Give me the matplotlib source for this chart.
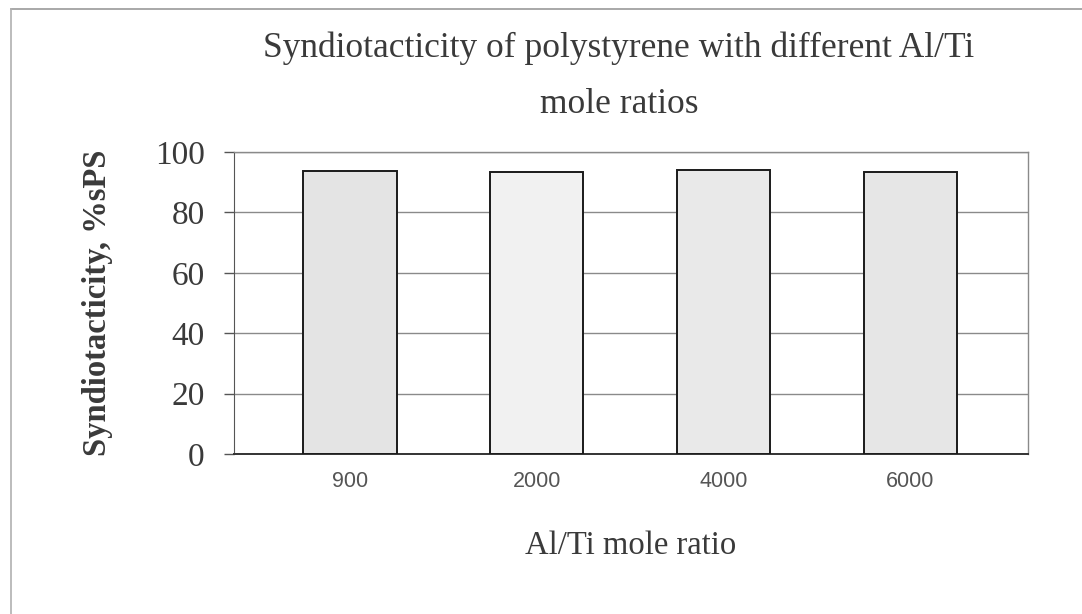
"""Bar chart: syndiotacticity of polystyrene vs Al/Ti mole ratio."""

import matplotlib
matplotlib.use("Agg")
import matplotlib.pyplot as plt
from matplotlib.lines import Line2D
import numpy as np

ratios = ["900", "2000", "4000", "6000"]
sps_percent = [93.6, 93.4, 94.2, 93.4]
bar_colors = ["#e4e4e4", "#f1f1f1", "#e9e9e9", "#e6e6e6"]
y_ticks = [0, 20, 40, 60, 80, 100]

SERIF = ["Liberation Serif", "DejaVu Serif"]
SANS = ["Liberation Sans", "DejaVu Sans"]

fig = plt.figure(figsize=(10.82, 6.14), dpi=100)
ax = fig.add_axes([0.2163, 0.2606, 0.7337, 0.4918])

x = np.arange(len(ratios))
ax.bar(x, sps_percent, width=0.5, color=bar_colors, edgecolor="#1a1a1a",
       linewidth=1.4, zorder=3)

ax.set_xlim(-0.62, 3.63)
ax.set_ylim(0, 100)
ax.set_yticks(y_ticks)
ax.set_yticklabels([str(v) for v in y_ticks], family=SERIF, fontsize=24,
                   color="#3a3a3a")
ax.set_xticks(x)
ax.set_xticklabels(ratios, family=SANS, fontsize=15.5, color="#555555")
ax.tick_params(axis="x", length=0, pad=12)
ax.tick_params(axis="y", length=7, width=1, color="#555555", pad=14)

ax.grid(axis="y", color="#8a8a8a", linewidth=1, zorder=0)
for side in ("top", "right"):
    ax.spines[side].set_color("#8a8a8a")
    ax.spines[side].set_linewidth(1)
ax.spines["left"].set_color("#555555")
ax.spines["bottom"].set_color("#333333")
ax.spines["bottom"].set_linewidth(1.4)

ax.set_ylabel("Syndiotacticity, %sPS", family=SERIF, fontsize=23.5,
              fontweight="bold", color="#3a3a3a", labelpad=30)
ax.set_xlabel("Al/Ti mole ratio", family=SERIF, fontsize=23.5,
              color="#3a3a3a", labelpad=28)

fig.text(0.572, 0.922, "Syndiotacticity of polystyrene with different Al/Ti",
         family=SERIF, fontsize=25.5, color="#3a3a3a", ha="center", va="center")
fig.text(0.572, 0.830, "mole ratios", family=SERIF, fontsize=25.5,
         color="#3a3a3a", ha="center", va="center")

# thin outer frame along the top and left edges
fig.add_artist(Line2D([11 / 1082, 1.0], [1 - 9 / 614, 1 - 9 / 614],
                      transform=fig.transFigure, color="#9a9a9a", linewidth=1.2))
fig.add_artist(Line2D([11 / 1082, 11 / 1082], [0.0, 1 - 9 / 614],
                      transform=fig.transFigure, color="#b0b0b0", linewidth=1.2))

fig.savefig("out.png", dpi=100)
